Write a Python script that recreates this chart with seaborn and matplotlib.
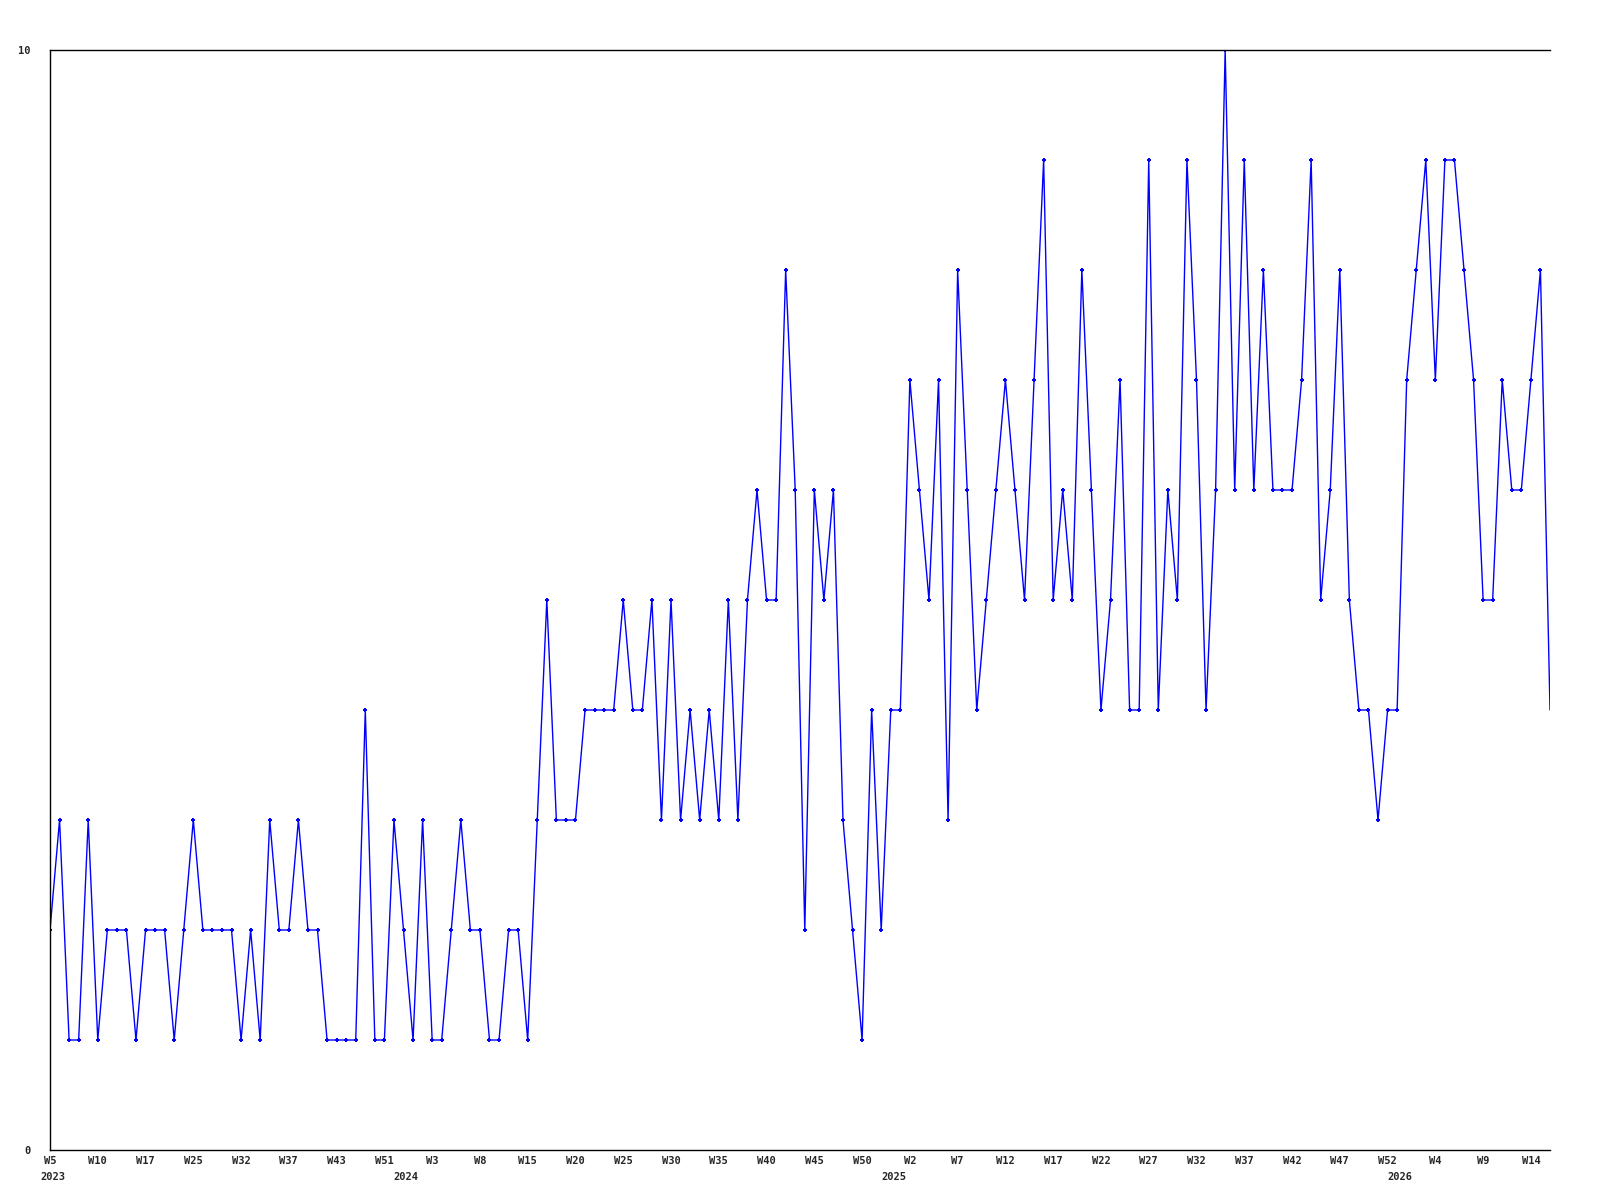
import numpy as np
import pandas as pd
import seaborn as sns
import matplotlib.pyplot as plt

# weekly counts, one entry per week that has data
values = [2, 3, 1, 1, 3, 1, 2, 2, 2, 1, 2, 2, 2, 1, 2, 3, 2, 2, 2, 2,
          1, 2, 1, 3, 2, 2, 3, 2, 2, 1, 1, 1, 1, 4, 1, 1, 3, 2, 1, 3,
          1, 1, 2, 3, 2, 2, 1, 1, 2, 2, 1, 3, 5, 3, 3, 3, 4, 4, 4, 4,
          5, 4, 4, 5, 3, 5, 3, 4, 3, 4, 3, 5, 3, 5, 6, 5, 5,
          8, 6, 2, 6, 5, 6, 3, 2, 1, 4, 2, 4, 4, 7, 6, 5, 7, 3, 8, 6,
          4, 5, 6, 7, 6, 5, 7, 9, 5, 6, 5, 8, 6, 4, 5, 7, 4, 4, 9, 4,
          6, 5, 9, 7,
          4, 6, 10, 6, 9, 6, 8, 6, 6, 6, 7, 9, 5, 6, 8, 5, 4, 4, 3, 4,
          4, 7, 8, 9, 7, 9, 9, 8, 7, 5, 5, 7, 6, 6, 7, 8, 4]

# label shown every 5th point
week_labels = ["W5", "W10", "W17", "W25", "W32", "W37", "W43", "W51",
               "W3", "W8", "W15", "W20", "W25", "W30", "W35", "W40",
               "W45", "W50", "W2", "W7", "W12", "W17", "W22", "W27",
               "W32", "W37", "W42", "W47", "W52", "W4", "W9", "W14"]
years = ["2023", "2024", "2025", "2026"]
year_idx = [0, 37, 88, 141]

df = pd.DataFrame({"idx": np.arange(len(values)), "count": values})

sns.set_style("white")
plt.rcParams['font.family'] = ['DejaVu Sans Mono']

fig = plt.figure(figsize=(16, 12), dpi=100)
ax = fig.add_axes([50 / 1600, 50 / 1200, 1500 / 1600, 1100 / 1200])

sns.lineplot(data=df, x="idx", y="count", color="#0000ff", linewidth=1.0, ax=ax)
sns.scatterplot(data=df.iloc[:-1], x="idx", y="count", color="#0000ff",
                marker="P", s=9, linewidth=0, ax=ax)

ax.set_xlim(0, len(values) - 1)
ax.set_ylim(0, 10)
ax.set_yticks([0, 10])
ax.set_yticklabels(["0", "10"], fontsize=7.5, fontweight="bold")
ax.set_xticks(np.arange(0, len(values), 5))
ax.set_xticklabels(week_labels, fontsize=7.5, fontweight="bold")
ax.tick_params(axis="both", length=0)
ax.tick_params(axis="x", pad=4)
ax.tick_params(axis="y", pad=14)
ax.set_xlabel("")
ax.set_ylabel("")

for yr, i in zip(years, year_idx):
    ax.text(i + 0.3, -0.0245, yr, transform=ax.get_xaxis_transform(),
            ha="center", va="center", fontsize=7.5, fontweight="bold")

for side in ["left", "bottom", "top"]:
    ax.spines[side].set_color("black")
    ax.spines[side].set_linewidth(1.0)
ax.spines["right"].set_visible(False)

fig.savefig("out.png", dpi=100)
